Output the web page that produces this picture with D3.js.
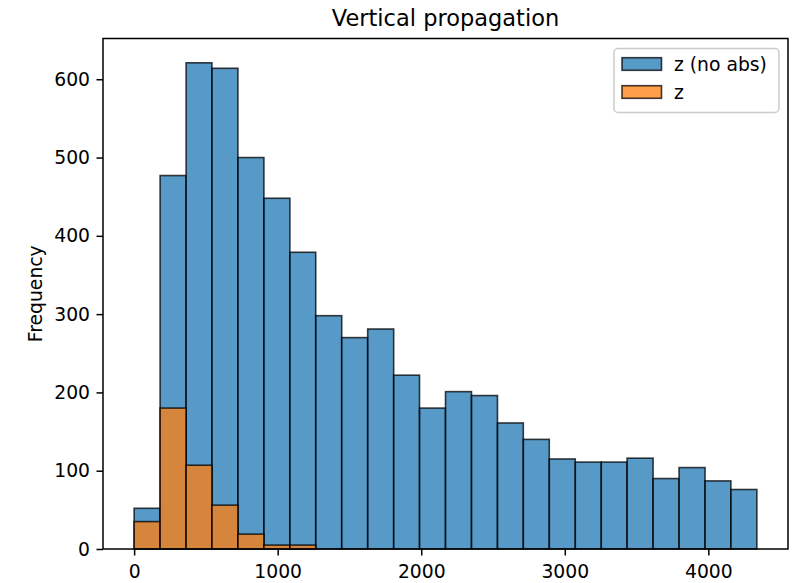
<html>
<script src="https://d3js.org/d3.v7.min.js"></script>
<style>
  body { margin: 0; background: white; }
  svg text { font-family: "DejaVu Sans", sans-serif; fill: black; }
</style>
<body>
<svg width="795" height="583"></svg>
<script>
// bin edges shared by both histograms
const binEdges = [0, 181, 362, 542, 723, 904, 1085, 1265, 1446, 1627, 1808, 1988, 2169,
                  2350, 2531, 2711, 2892, 3073, 3254, 3434, 3615, 3796, 3977, 4157, 4338];
// counts per bin
const noAbsCounts = [52, 477, 621, 614, 500, 448, 379, 298, 270, 281, 222, 180,
                     201, 196, 161, 140, 115, 111, 111, 116, 90, 104, 87, 76];
const absCounts = [35, 180, 107, 56, 19, 5, 5, 0, 0, 0, 0, 0,
                   0, 0, 0, 0, 0, 0, 0, 0, 0, 0, 0, 0];
const seriesNames = ["z (no abs)", "z"];
const seriesColors = ["#1f77b4", "#ff7f0e"];
const xTicks = [0, 1000, 2000, 3000, 4000];
const yTicks = [0, 100, 200, 300, 400, 500, 600];

const mLeft = 103, mRight = 788, mTop = 38.5, mBottom = 549;
const fs = 18.75;
const svg = d3.select("svg");

const span = binEdges[binEdges.length - 1] - binEdges[0];
const xs = d3.scaleLinear()
  .domain([binEdges[0] - 0.05 * span, binEdges[binEdges.length - 1] + 0.05 * span])
  .range([mLeft, mRight]);
const ys = d3.scaleLinear()
  .domain([0, 1.05 * d3.max(noAbsCounts)])
  .range([mBottom, mTop]);

// bars, orange drawn over blue
[noAbsCounts, absCounts].forEach((counts, k) => {
  svg.append("g")
    .selectAll("rect")
    .data(counts.map((c, i) => ({c: c, i: i})).filter(d => d.c > 0))
    .enter()
    .append("rect")
    .attr("x", d => xs(binEdges[d.i]))
    .attr("y", d => ys(d.c))
    .attr("width", d => xs(binEdges[d.i + 1]) - xs(binEdges[d.i]))
    .attr("height", d => ys(0) - ys(d.c))
    .style("fill", seriesColors[k])
    .style("fill-opacity", 0.75)
    .style("stroke", "black")
    .style("stroke-opacity", 0.75)
    .style("stroke-width", 1.6);
});

// Y Axis
const yAxis = svg.append("g")
  .attr("transform", "translate(" + mLeft + ",0)")
  .call(d3.axisLeft(ys).tickValues(yTicks).tickSize(6.5).tickPadding(6.5).tickSizeOuter(0));
yAxis.select(".domain").remove();
yAxis.selectAll("text").style("font-size", fs + "px").style("font-family", "DejaVu Sans");
yAxis.selectAll("line").style("stroke-width", 1.5);

// X Axis
const xAxis = svg.append("g")
  .attr("transform", "translate(0," + mBottom + ")")
  .call(d3.axisBottom(xs).tickValues(xTicks).tickFormat(d3.format("d")).tickSize(6.5).tickPadding(9).tickSizeOuter(0));
xAxis.select(".domain").remove();
xAxis.selectAll("text").style("font-size", fs + "px").style("font-family", "DejaVu Sans");
xAxis.selectAll("line").style("stroke-width", 1.5);

// frame
svg.append("rect")
  .attr("x", mLeft).attr("y", mTop)
  .attr("width", mRight - mLeft).attr("height", mBottom - mTop)
  .style("fill", "none").style("stroke", "black").style("stroke-width", 1.5);

// labels
svg.append("text")
  .attr("x", (mLeft + mRight) / 2).attr("y", 26)
  .attr("text-anchor", "middle")
  .style("font-size", "22.5px")
  .text("Vertical propagation");

svg.append("text")
  .attr("transform", "translate(42," + (mTop + mBottom) / 2 + ") rotate(-90)")
  .attr("text-anchor", "middle")
  .style("font-size", fs + "px")
  .text("Frequency");

// legend
const lg = svg.append("g");
lg.append("rect")
  .attr("x", 614).attr("y", 48.5).attr("width", 165).attr("height", 64)
  .attr("rx", 4)
  .style("fill", "white").style("fill-opacity", 0.8)
  .style("stroke", "#cccccc").style("stroke-width", 1.5);
seriesNames.forEach((name, k) => {
  const cy = 64 + k * 28;
  lg.append("rect")
    .attr("x", 622).attr("y", cy - 6.3).attr("width", 39.5).attr("height", 12.6)
    .style("fill", seriesColors[k]).style("fill-opacity", 0.75)
    .style("stroke", "black").style("stroke-opacity", 0.75).style("stroke-width", 1.6);
  lg.append("text")
    .attr("x", 674).attr("y", cy + 6.5)
    .style("font-size", fs + "px")
    .text(name);
});
</script>
</body>
</html>
